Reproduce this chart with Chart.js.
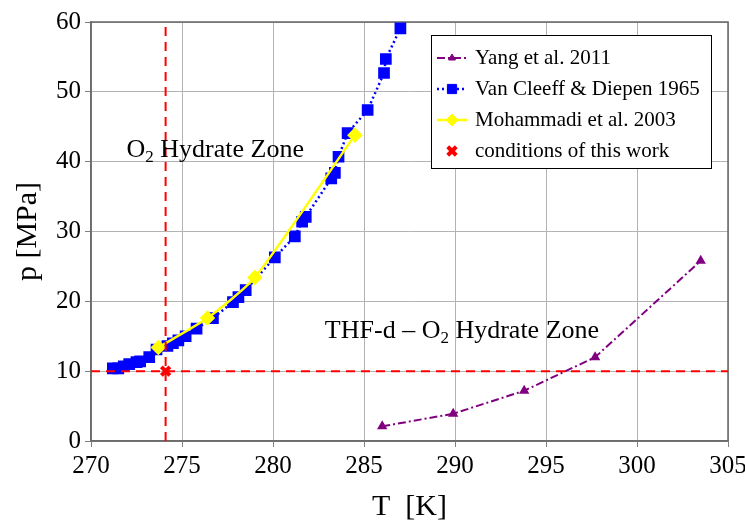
<!DOCTYPE html>
<html>
<head>
    <title>Hydrate Equilibrium</title>
    <script src="https://cdn.jsdelivr.net/npm/chart.js"></script>
    <style>
        body {
            margin: 0;
            background: #ffffff;
        }
        .wrap {
            width: 745px;
            height: 522px;
        }
    </style>
</head>
<body>
    <div class="wrap"><canvas id="chart" width="745" height="522"></canvas></div>
    <script>
        // axis ticks
        const xTicks = [270, 275, 280, 285, 290, 295, 300, 305];
        const yTicks = [0, 10, 20, 30, 40, 50, 60];

        // Yang et al. 2011
        const yangT = [286.0, 289.9, 293.8, 297.7, 303.5];
        const yangP = [2.1, 3.9, 7.2, 12.0, 25.8];

        // Van Cleeff & Diepen 1965
        const vcT = [271.2, 271.5, 271.8, 272.1, 272.5, 272.7, 273.2, 273.6, 274.2, 274.5, 274.8, 275.2,
                     275.8, 276.7, 277.8, 278.1, 278.5, 280.1, 281.2, 281.6, 281.8, 283.2, 283.4, 283.6,
                     284.1, 285.2, 286.1, 286.2, 287.0];
        const vcP = [10.4, 10.4, 10.7, 11.0, 11.3, 11.4, 12.0, 13.1, 13.6, 14.0, 14.4, 15.0,
                     16.1, 17.6, 19.9, 20.6, 21.6, 26.3, 29.3, 31.4, 32.1, 37.6, 38.4, 40.7,
                     44.1, 47.4, 52.7, 54.7, 59.1];

        // Mohammadi et al. 2003
        const mohT = [273.7, 276.4, 279.0, 284.5];
        const mohP = [13.4, 17.6, 23.4, 43.8];

        // conditions of this work
        const workT = [274.1];
        const workP = [10.0];

        const serif = "'Liberation Serif', 'DejaVu Serif', serif";
        Chart.defaults.font.family = serif;

        function pts(xs, ys) {
            return xs.map((x, i) => ({ x: x, y: ys[i] }));
        }

        // legend drawn as a framed box inside the plot
        const boxLegend = {
            id: 'boxLegend',
            afterDraw(chart) {
                const ctx = chart.ctx;
                const items = chart.data.datasets.filter(d => d.legendOrder)
                    .sort((a, b) => a.legendOrder - b.legendOrder);
                ctx.save();
                ctx.fillStyle = '#ffffff';
                ctx.fillRect(431, 35, 280, 133);
                ctx.strokeStyle = '#000000';
                ctx.lineWidth = 1;
                ctx.strokeRect(431.5, 35.5, 280, 133);
                items.forEach((d, i) => {
                    const y = 58 + i * 31;
                    if (d.showLine) {
                        ctx.strokeStyle = d.borderColor;
                        ctx.lineWidth = d.borderWidth;
                        ctx.setLineDash(d.borderDash || []);
                        ctx.beginPath();
                        ctx.moveTo(437, y);
                        ctx.lineTo(467, y);
                        ctx.stroke();
                        ctx.setLineDash([]);
                    }
                    const bw = d.pointBorderWidth || 1;
                    ctx.fillStyle = d.pointBackgroundColor;
                    ctx.strokeStyle = d.pointBorderColor;
                    ctx.lineWidth = bw;
                    Chart.helpers.drawPoint(ctx, { pointStyle: d.pointStyle, radius: d.pointRadius, rotation: 0, borderWidth: bw }, 452, y);
                    ctx.fillStyle = '#000000';
                    ctx.font = '21px ' + serif;
                    ctx.textBaseline = 'middle';
                    ctx.textAlign = 'left';
                    ctx.fillText(d.label, 475, y);
                });
                ctx.restore();
            }
        };

        // frame and zone labels
        const decor = {
            id: 'decor',
            beforeDatasetsDraw(chart) {
                const a = chart.chartArea;
                const ctx = chart.ctx;
                ctx.save();
                ctx.strokeStyle = '#666666';
                ctx.lineWidth = 1.5;
                ctx.strokeRect(a.left, a.top, a.right - a.left, a.bottom - a.top);
                ctx.restore();
            },
            afterDatasetsDraw(chart) {
                const ctx = chart.ctx;
                const sx = chart.scales.x, sy = chart.scales.y;
                drawZone(ctx, '', 'O', '2', ' Hydrate Zone', sx.getPixelForValue(271.95), sy.getPixelForValue(40.6));
                drawZone(ctx, 'THF-d \u2013 ', 'O', '2', ' Hydrate Zone', sx.getPixelForValue(282.85), sy.getPixelForValue(14.8));
            }
        };

        function drawZone(ctx, pre, main, sub, post, x, y) {
            ctx.save();
            ctx.fillStyle = '#000000';
            ctx.textBaseline = 'alphabetic';
            ctx.textAlign = 'left';
            ctx.font = '26px ' + serif;
            ctx.fillText(pre + main, x, y);
            x += ctx.measureText(pre + main).width;
            ctx.font = '17px ' + serif;
            ctx.fillText(sub, x, y + 5);
            x += ctx.measureText(sub).width;
            ctx.font = '26px ' + serif;
            ctx.fillText(post, x, y);
            ctx.restore();
        }

        new Chart(document.getElementById('chart').getContext('2d'), {
            type: 'scatter',
            data: {
                datasets: [
                    {
                        label: 'conditions of this work',
                        legendOrder: 4,
                        order: 0,
                        data: pts(workT, workP),
                        showLine: false,
                        pointStyle: 'crossRot',
                        pointRadius: 6,
                        pointBorderWidth: 4,
                        pointBackgroundColor: '#ff0000',
                        pointBorderColor: '#ff0000',
                        borderColor: '#ff0000'
                    },
                    {
                        label: 'p limit',
                        order: 1,
                        data: [{ x: xTicks[0], y: workP[0] }, { x: xTicks[xTicks.length - 1], y: workP[0] }],
                        showLine: true,
                        pointRadius: 0,
                        borderColor: '#ff0000',
                        borderWidth: 2,
                        borderDash: [9, 6]
                    },
                    {
                        label: 'T limit',
                        order: 1,
                        data: [{ x: workT[0], y: yTicks[0] }, { x: workT[0], y: yTicks[yTicks.length - 1] }],
                        showLine: true,
                        pointRadius: 0,
                        borderColor: '#ff0000',
                        borderWidth: 2,
                        borderDash: [9, 6]
                    },
                    {
                        label: 'Yang et al. 2011',
                        legendOrder: 1,
                        order: 4,
                        data: pts(yangT, yangP),
                        showLine: true,
                        borderColor: '#800080',
                        borderWidth: 2,
                        borderDash: [8, 3, 2, 3],
                        pointStyle: 'triangle',
                        pointRadius: 4,
                        pointBackgroundColor: '#800080',
                        pointBorderColor: '#800080'
                    },
                    {
                        label: 'Van Cleeff & Diepen 1965',
                        legendOrder: 2,
                        order: 3,
                        data: pts(vcT, vcP),
                        showLine: true,
                        borderColor: '#0000ff',
                        borderWidth: 2.5,
                        borderDash: [2, 3],
                        pointStyle: 'rect',
                        pointRadius: 6.5,
                        pointBackgroundColor: '#0000ff',
                        pointBorderColor: '#0000ff'
                    },
                    {
                        label: 'Mohammadi et al. 2003',
                        legendOrder: 3,
                        order: 2,
                        data: pts(mohT, mohP),
                        showLine: true,
                        tension: 0.2,
                        borderColor: '#ffff00',
                        borderWidth: 2.5,
                        pointStyle: 'rectRot',
                        pointRadius: 6,
                        pointBackgroundColor: '#ffff00',
                        pointBorderColor: '#ffff00'
                    }
                ]
            },
            options: {
                responsive: false,
                animation: false,
                layout: { padding: { top: 22, right: 17, left: 0, bottom: 0 } },
                plugins: {
                    legend: { display: false },
                    tooltip: { enabled: false }
                },
                scales: {
                    x: {
                        type: 'linear',
                        min: xTicks[0],
                        max: xTicks[xTicks.length - 1],
                        afterBuildTicks: s => { s.ticks = xTicks.map(v => ({ value: v })); },
                        afterFit: s => { s.height = 81; s.paddingRight = 0; s.paddingLeft = 0; },
                        ticks: { color: '#000000', font: { family: 'Liberation Serif', size: 25 }, padding: 4 },
                        grid: { color: '#b3b3b3', tickLength: 6, tickColor: '#808080' },
                        border: { color: '#808080', width: 1.5 },
                        title: { display: true, text: 'T  [K]', color: '#000000', font: { family: serif, size: 30, lineHeight: 1.0 }, padding: { top: 0, bottom: 0 } }
                    },
                    y: {
                        type: 'linear',
                        min: yTicks[0],
                        max: yTicks[yTicks.length - 1],
                        afterBuildTicks: s => { s.ticks = yTicks.map(v => ({ value: v })); },
                        afterFit: s => { s.width = 91; s.paddingTop = 0; s.paddingBottom = 0; },
                        ticks: { color: '#000000', font: { family: 'Liberation Serif', size: 25 }, padding: 4 },
                        grid: { color: '#b3b3b3', tickLength: 6, tickColor: '#808080' },
                        border: { color: '#808080', width: 1.5 },
                        title: { display: true, text: 'p [MPa]', color: '#000000', font: { family: serif, size: 30 }, padding: { top: 10, bottom: 0 } }
                    }
                }
            },
            plugins: [decor, boxLegend]
        });
    </script>
</body>
</html>
